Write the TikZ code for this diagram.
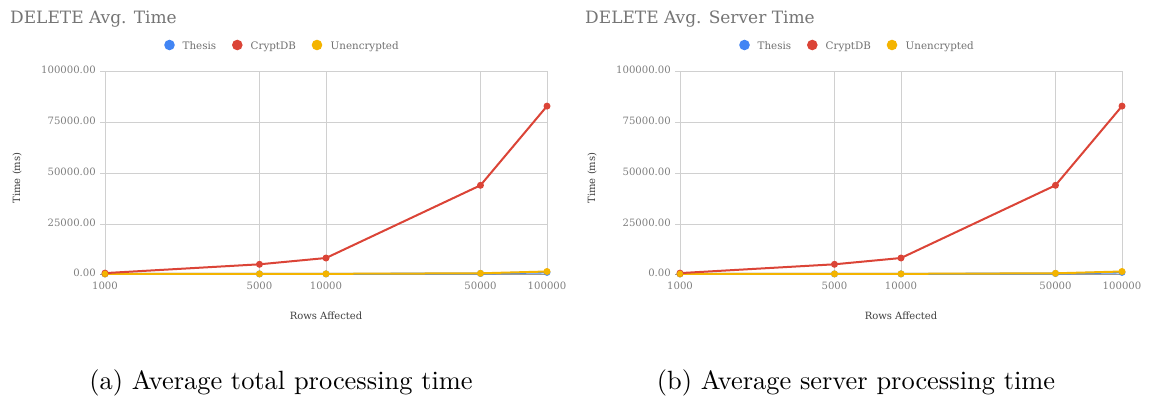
\documentclass[tikz,border=0pt]{standalone}
\usepackage{fontspec}
\newfontfamily\chfont{DejaVu Serif}
\newfontfamily\capfont{lmroman10-regular.otf}
\definecolor{thesisc}{HTML}{4285F4}
\definecolor{cryptc}{HTML}{DB4437}
\definecolor{unencc}{HTML}{F4B400}
\definecolor{titlec}{HTML}{757575}
\definecolor{tickc}{HTML}{808080}
\definecolor{legc}{HTML}{707070}
\definecolor{axc}{HTML}{404040}
\definecolor{gridc}{HTML}{D0D0D0}
\definecolor{basec}{HTML}{999999}
\tikzset{
  titletext/.style={font=\chfont\fontsize{17}{20}\selectfont, text=titlec, inner sep=0pt},
  legtext/.style={font=\chfont\fontsize{10.3}{12}\selectfont, text=legc, inner sep=0pt, anchor=base west},
  ticktext/.style={font=\chfont\fontsize{10.1}{12}\selectfont, text=tickc, inner sep=0pt},
  axtext/.style={font=\chfont\fontsize{10}{12}\selectfont, text=axc, inner sep=0pt},
  captext/.style={font=\capfont\fontsize{26.4}{30}\selectfont, inner sep=0pt, anchor=base},
  gridline/.style={draw=gridc, line width=0.9pt},
  baseline/.style={draw=basec, line width=1pt},
  serline/.style={line width=2pt, line join=round},
  legdot/.style={circle, inner sep=0pt, minimum size=10.6pt},
  pt/.style={circle, inner sep=0pt, minimum size=7pt},
}
\newcommand\mychart[2]{%
\begin{scope}[xshift=#2pt]
  \node[titletext, anchor=base west] (title-#2) at (10,23) {#1};
  \node[legdot, fill=thesisc] (ld1-#2) at (169.5,45) {};
  \node[legtext] (lt1-#2) at (182.5,49.5) {Thesis};
  \node[legdot, fill=cryptc] (ld2-#2) at (237.3,45) {};
  \node[legtext] (lt2-#2) at (250.5,49.5) {CryptDB};
  \node[legdot, fill=unencc] (ld3-#2) at (317,45) {};
  \node[legtext] (lt3-#2) at (330.5,49.5) {Unencrypted};
  \foreach \yy/\lab [count=\i] in {71/100000.00,122/75000.00,173/50000.00,224/25000.00}{
    \draw[gridline] (100,\yy) -- (547,\yy);
    \node[ticktext, anchor=mid east] (yl\i-#2) at (96,\yy) {\lab};
  }
  \node[ticktext, anchor=mid east] (yl5-#2) at (96,274) {0.00};
  \foreach \xx/\lab [count=\i] in {0/1000,154.47/5000,221/10000,375.47/50000,442/100000}{
    \draw[gridline] (105+\xx,71) -- (105+\xx,274);
    \node[ticktext, anchor=mid] (xl\i-#2) at (105+\xx,287) {\lab};
  }
  \draw[baseline] (100,274) -- (547,274);
  \node[axtext, anchor=mid] (xt-#2) at (326,317) {Rows Affected};
  \node[axtext, anchor=mid, rotate=90] (yt-#2) at (18,178) {Time (ms)};
  % Thesis
  \draw[serline, thesisc] (105,273.96) -- (259.47,273.94) -- (326,273.92) -- (480.47,273.5) -- (547,272.4);
  \foreach \px/\py [count=\i] in {105/273.96,259.47/273.94,326/273.92,480.47/273.5,547/272.4}
    \node[pt, fill=thesisc] (tp\i-#2) at (\px,\py) {};
  % Unencrypted
  \draw[serline, unencc] (105,273.94) -- (259.47,273.88) -- (326,273.84) -- (480.47,273.3) -- (547,271.5);
  \foreach \px/\py [count=\i] in {105/273.94,259.47/273.88,326/273.84,480.47/273.3,547/271.5}
    \node[pt, fill=unencc] (up\i-#2) at (\px,\py) {};
  % CryptDB
  \draw[serline, cryptc] (105,273.1) -- (259.47,264.3) -- (326,258.0) -- (480.47,185.3) -- (547,106.1);
  \foreach \px/\py [count=\i] in {105/273.1,259.47/264.3,326/258.0,480.47/185.3,547/106.1}
    \node[pt, fill=cryptc] (cp\i-#2) at (\px,\py) {};
  \node[pt, fill=unencc, minimum size=6pt] (fp-#2) at (105,273.6) {};
\end{scope}}
\begin{document}
\begin{tikzpicture}[x=1pt,y=-1pt]
  \useasboundingbox (0,0) rectangle (1150,399);
  \fill[white] (0,0) rectangle (1150,399);
  \mychart{DELETE Avg. Time}{0}
  \mychart{DELETE Avg. Server Time}{575}
  \node[captext] (capa) at (281,389) {(a) Average total processing time};
  \node[captext] (capb) at (856,389) {(b) Average server processing time};
\end{tikzpicture}
\end{document}
